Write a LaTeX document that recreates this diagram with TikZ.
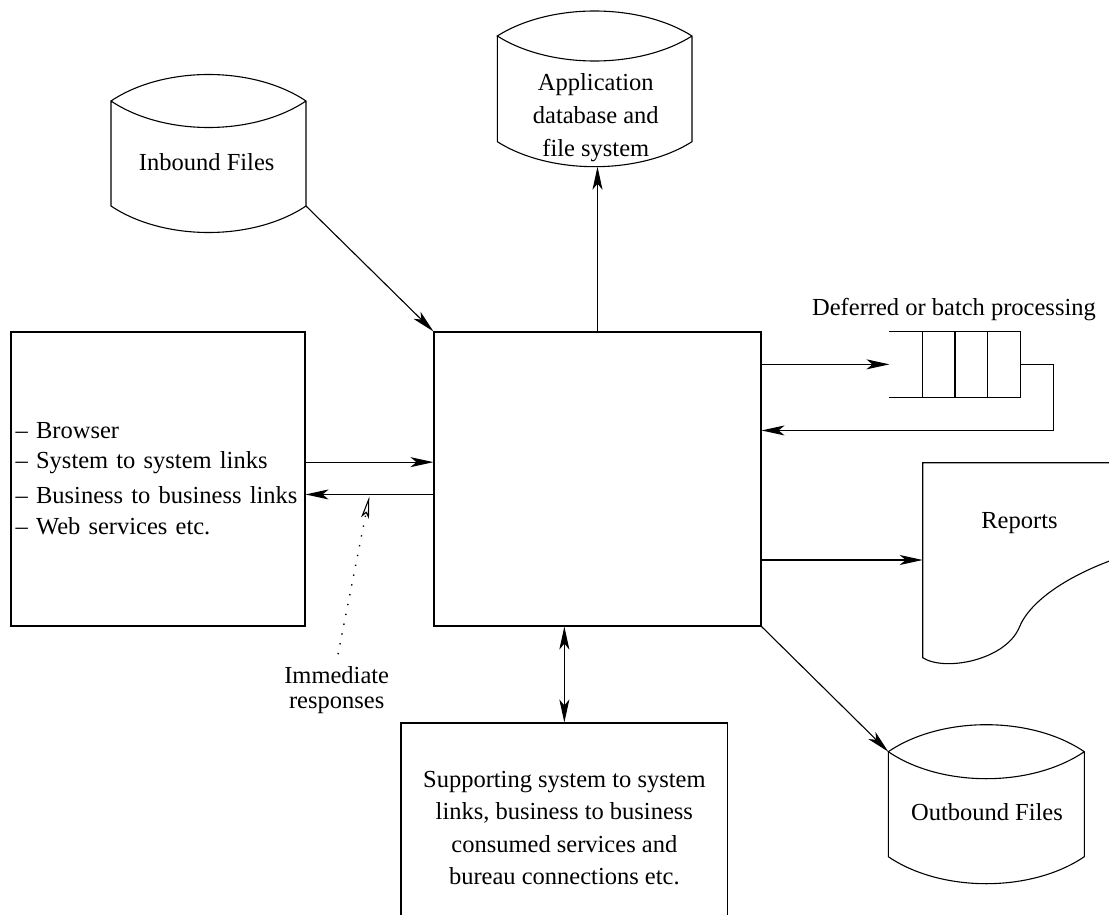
\documentclass[tikz,border=0pt]{standalone}
\usepackage{fontspec}
\setmainfont{Liberation Serif}
\usetikzlibrary{arrows.meta,calc}

% drum (disk store) outline: name, left x, right x, top corner y, bottom corner y, bulge
\newcommand\drum[6]{%
  \pgfmathsetmacro\drumXa{#2+0.27*(#3-#2)}%
  \pgfmathsetmacro\drumXb{#3-0.27*(#3-#2)}%
  \pgfmathsetmacro\drumXm{0.5*(#2+#3)}%
  \pgfmathsetmacro\drumYup{#4-1.3333*#6}%
  \pgfmathsetmacro\drumYin{#4+1.3333*#6}%
  \pgfmathsetmacro\drumYdn{#5+1.3333*#6}%
  \pgfmathsetmacro\drumYlow{#5+#6}%
  \draw (#2,#4) -- (#2,#5)
        .. controls (\drumXa,\drumYdn) and (\drumXb,\drumYdn) .. (#3,#5)
        -- (#3,#4)
        .. controls (\drumXb,\drumYup) and (\drumXa,\drumYup) .. (#2,#4)
        .. controls (\drumXa,\drumYin) and (\drumXb,\drumYin) .. (#3,#4);
  \coordinate (#1-nw) at (#2,#4);
  \coordinate (#1-se) at (#3,#5);
  \coordinate (#1-s) at (\drumXm,\drumYlow);
}

\begin{document}
\begin{tikzpicture}[x=1pt,y=-1pt,line width=1.1pt,
  every node/.style={font=\fontsize{24.5}{33}\selectfont,inner sep=0pt},
  box/.style={draw,rectangle,inner sep=0pt},
  flow/.style={-{Stealth[length=23pt,width=10pt,inset=6pt]}},
  twoway/.style={{Stealth[length=23pt,width=10pt,inset=6pt]}-{Stealth[length=23pt,width=10pt,inset=6pt]}},
  hint/.style={line width=1.4pt,dash pattern=on 1.3pt off 8.7pt,
    -{Stealth[open,length=22pt,width=8pt,inset=5pt,line width=1.1pt]}},
]
\clip (0,0) rectangle (1109,915);

% central application box and the channel boxes
\node[box,minimum width=327pt,minimum height=294pt] (core) at (597.5,479) {};
\node[box,minimum width=294pt,minimum height=294pt,text width=284.6pt,
      inner xsep=4.7pt,align=left] (clients) at (158,479)
  {– Browser\\[-3pt]
   – System to system links\\[2pt]
   – Business to business links\\[-2pt]
   – Web services etc.};
\node[box,minimum width=326.7pt,minimum height=210.4pt,align=center,
      font=\fontsize{24.5}{32.5}\selectfont] (support) at (564.35,828.2)
  {Supporting system to system\\
   links, business to business\\
   consumed services and\\
   bureau connections etc.};

% file stores
\drum{inb}{111}{306}{101}{206}{26.5}
\node[anchor=base] (inbText) at (206.7,171) {Inbound Files};

\drum{app}{497.3}{692}{36}{141.7}{25}
\node[align=center] (appText) at (595.8,117.3)
  {Application\\database and\\file system};

\drum{outb}{888.3}{1084.3}{751.7}{856.7}{27}
\node[anchor=base] (outbText) at (987,820) {Outbound Files};

% batch queue
\node[minimum width=130pt,minimum height=64.7pt] (queue) at (955,364.35) {};
\draw (queue.north west) -- (queue.north east) -- (queue.south east) -- (queue.south west);
\foreach \f in {0.25,0.5,0.75}
  \draw ($(queue.north west)!\f!(queue.north east)$) -- ($(queue.south west)!\f!(queue.south east)$);
\node[anchor=base] (deferred) at (954,315) {Deferred or batch processing};

% report document
\draw (1115,462.7) -- (922.7,462.7) -- (922.7,657.7)
  .. controls (945,672) and (1005,660) .. (1019,628)
  .. controls (1030,600) and (1070,575) .. (1115,559);
\coordinate (rep-w) at (922.7,560);
\node[anchor=base] (reports) at (1019.5,528) {Reports};

% label for the replies
\node[align=center,font=\fontsize{24.5}{25}\selectfont] (resp) at (336.7,690)
  {Immediate\\responses};
\coordinate (hit) at (369.3,496.5);

% connectors
\draw[flow] (inb-se) -- (core.north west);
\draw[flow] (core.north) -- (core.north |- app-s);
\draw[flow] (core.east |- queue.west) -- (queue.west);
\draw[flow] (queue.east) -- ++(32.7,0) |- ($(core.north east)+(0,99)$);
\draw[flow] (core.east |- rep-w) -- (rep-w);
\draw[flow] (core.south east) -- (outb-nw);
\draw[twoway] (core.south -| support.north) -- (support.north);
\draw[flow] ($(clients.north east)+(0,130.7)$) -- ($(core.north west)+(0,130.7)$);
\draw[flow] ($(core.north west)+(0,163)$) -- ($(clients.north east)+(0,163)$);
\draw[hint] ($(resp.north)+(1.3,-11.6)$) -- (hit);
\end{tikzpicture}
\end{document}
